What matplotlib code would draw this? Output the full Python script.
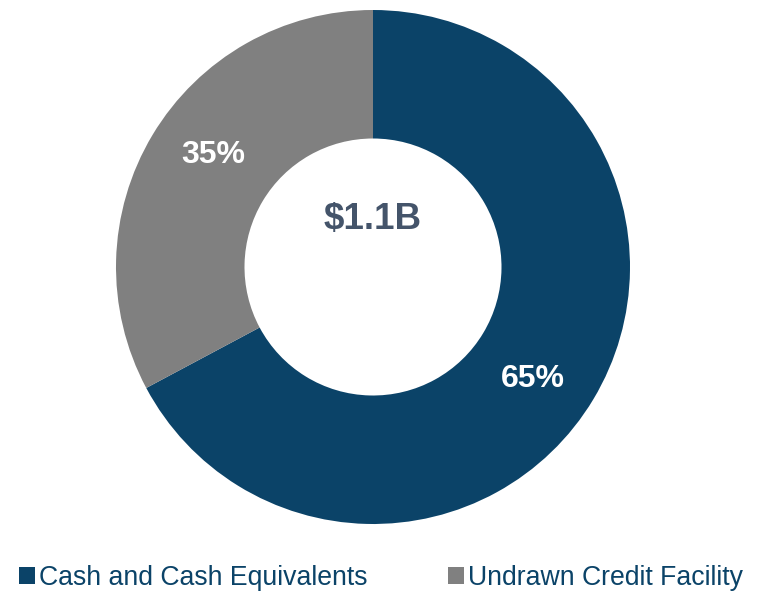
import matplotlib
matplotlib.use("Agg")
import matplotlib.pyplot as plt
import numpy as np
from matplotlib.patches import Patch

categories = ["Cash and Cash Equivalents", "Undrawn Credit Facility"]
values = [67.2, 32.8]
pct_labels = ["65%", "35%"]
colors = ["#0B4368", "#808080"]
center_label = "$1.1B"

plt.rcParams['font.family'] = ['Liberation Sans', 'DejaVu Sans']

fig = plt.figure(figsize=(7.58, 5.92), dpi=100)
W, H = 758, 592
cx, cy, R = 373, 267, 257
ax = fig.add_axes([(cx - R) / W, (H - cy - R) / H, 2 * R / W, 2 * R / H])
wedges, _ = ax.pie(
    values, colors=colors, startangle=90, counterclock=False,
    radius=1.0, wedgeprops=dict(width=0.5, edgecolor='none'))
for w, lab in zip(wedges, pct_labels):
    ang = np.deg2rad((w.theta1 + w.theta2) / 2 - 4)
    ax.text(0.76 * np.cos(ang), 0.76 * np.sin(ang), lab, ha='center',
            va='center', color='white', fontsize=23, fontweight='bold')
ax.set_xlim(-1, 1)
ax.set_ylim(-1, 1)
ax.set_aspect('equal')
ax.axis('off')
ax.text(0, 0.183, center_label, ha='center', va='center', fontsize=26.5,
        fontweight='bold', color='#44546A')

handles = [Patch(facecolor=c, edgecolor='none') for c in colors]
leg = fig.legend(handles, categories, loc='center', ncol=2,
                 bbox_to_anchor=(381 / W, 1 - 578 / H), frameon=False,
                 fontsize=19.2, handlelength=0.6, handleheight=0.6,
                 handletextpad=0.15, columnspacing=3.0)
for t in leg.get_texts():
    t.set_color('#0B4368')

fig.savefig("out.png", dpi=100)
